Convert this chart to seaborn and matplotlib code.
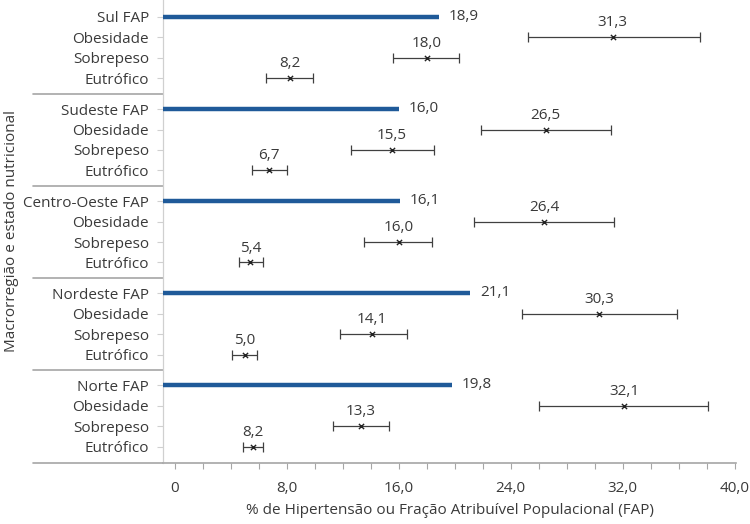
import matplotlib
matplotlib.use("Agg")
import matplotlib.pyplot as plt
import matplotlib.transforms as mtransforms
from matplotlib.ticker import MultipleLocator, FuncFormatter
import numpy as np
import pandas as pd
import seaborn as sns

# -------------------------
# data
# -------------------------
regions = ["Sul", "Sudeste", "Centro-Oeste", "Nordeste", "Norte"]
states = ["Obesidade", "Sobrepeso", "Eutrófico"]

fap = [18.9, 16.0, 16.1, 21.1, 19.8]

obes_est = [31.3, 26.5, 26.4, 30.3, 32.1]
obes_lo = [25.2, 21.9, 21.4, 24.8, 26.0]
obes_hi = [37.5, 31.2, 31.4, 35.9, 38.1]

sobre_est = [18.0, 15.5, 16.0, 14.1, 13.3]
sobre_lo = [15.6, 12.6, 13.5, 11.8, 11.3]
sobre_hi = [20.3, 18.5, 18.4, 16.6, 15.3]

eutro_est = [8.2, 6.7, 5.4, 5.0, 5.6]
eutro_lo = [6.5, 5.5, 4.6, 4.1, 4.9]
eutro_hi = [9.9, 8.0, 6.3, 5.9, 6.3]
eutro_lbl = ["8,2", "6,7", "5,4", "5,0", "8,2"]

x_ticks = [0, 8, 16, 24, 32, 40]


def fmt(v):
    return f"{v:.1f}".replace(".", ",")


# -------------------------
# layout helpers
# -------------------------
group_step = 4.5
rows = []
for g, reg in enumerate(regions):
    base = g * group_step
    est = [obes_est[g], sobre_est[g], eutro_est[g]]
    lo = [obes_lo[g], sobre_lo[g], eutro_lo[g]]
    hi = [obes_hi[g], sobre_hi[g], eutro_hi[g]]
    lbl = [fmt(obes_est[g]), fmt(sobre_est[g]), eutro_lbl[g]]
    for r, st in enumerate(states):
        rows.append(dict(region=reg, state=st, y=base + r + 1,
                         est=est[r], lo=lo[r], hi=hi[r], lbl=lbl[r]))
df = pd.DataFrame(rows)

fap_y = [g * group_step for g in range(len(regions))]

sns.set_theme(style="white")
plt.rcParams["font.family"] = ["Open Sans", "DejaVu Sans"]
fs = 11

fig = plt.figure(figsize=(7.5, 5.24), dpi=100)
ax = fig.add_axes([163 / 750, 61 / 524, 573 / 750, 463 / 524])

xmin, xmax = -0.85, 40.1
ax.set_xlim(xmin, xmax)
ax.set_ylim(21.8, -0.83)

text_c = "#3a3a3a"
bar_c = "#1f5a99"
err_c = "#404040"

# FAP bars
ax.hlines(fap_y, xmin, fap, color=bar_c, lw=3.2, zorder=3)
for y, v in zip(fap_y, fap):
    ax.annotate(fmt(v), (v, y), xytext=(7, 0.5), textcoords="offset points",
                ha="left", va="center", fontsize=fs, color=text_c)

# confidence intervals
ax.errorbar(df["est"], df["y"],
            xerr=[df["est"] - df["lo"], df["hi"] - df["est"]],
            fmt="none", ecolor=err_c, elinewidth=0.9, capsize=3.5,
            capthick=0.9, zorder=2)
sns.scatterplot(data=df, x="est", y="y", marker="x", color="#222222",
                s=14, linewidth=1.0, ax=ax, zorder=4, legend=False)
for _, r in df.iterrows():
    ax.annotate(r["lbl"], (r["est"], r["y"]), xytext=(0, 5),
                textcoords="offset points", ha="center", va="bottom",
                fontsize=fs, color=text_c)

# y axis labels
yt, yl = [], []
for g, reg in enumerate(regions):
    yt.append(fap_y[g])
    yl.append(f"{reg} FAP")
    for r, st in enumerate(states):
        yt.append(fap_y[g] + r + 1)
        yl.append(st)
ax.set_yticks(yt)
ax.set_yticklabels(yl, fontsize=fs, color=text_c)
ax.tick_params(axis="y", left=True, length=4, width=0.8, color="#d0d0d0", pad=6)

# x axis
ax.xaxis.set_major_locator(MultipleLocator(8))
ax.xaxis.set_minor_locator(MultipleLocator(2))
ax.set_xticks(x_ticks)
ax.xaxis.set_major_formatter(FuncFormatter(lambda v, p: "0" if v == 0 else fmt(v)))
ax.tick_params(axis="x", which="both", bottom=True, length=4, width=0.8,
               color="#a6a6a6", direction="out")
ax.tick_params(axis="x", which="major", pad=9, labelsize=fs, labelcolor=text_c)

ax.set_xlabel("% de Hipertensão ou Fração Atribuível Populacional (FAP)",
              fontsize=fs, color=text_c, labelpad=5)
ax.set_ylabel("Macrorregião e estado nutricional", fontsize=fs, color=text_c)
ax.yaxis.set_label_coords(-0.252, 0.5)

for s in ["top", "right"]:
    ax.spines[s].set_visible(False)
ax.spines["left"].set_color("#d0d0d0")
ax.spines["left"].set_linewidth(0.9)
ax.spines["bottom"].set_color("#a6a6a6")
ax.spines["bottom"].set_linewidth(1.2)

# group separators in the label area
trans = mtransforms.blended_transform_factory(ax.transAxes, ax.transData)
left_ext = -130 / 573
for g in range(1, len(regions)):
    ys = fap_y[g] - 0.75
    ax.plot([left_ext, 0], [ys, ys], transform=trans, color="#a6a6a6",
            lw=1.2, clip_on=False)
ax.plot([left_ext, 0], [0, 0], transform=ax.transAxes, color="#a6a6a6",
        lw=1.2, clip_on=False)

fig.savefig("out.png", dpi=100)
